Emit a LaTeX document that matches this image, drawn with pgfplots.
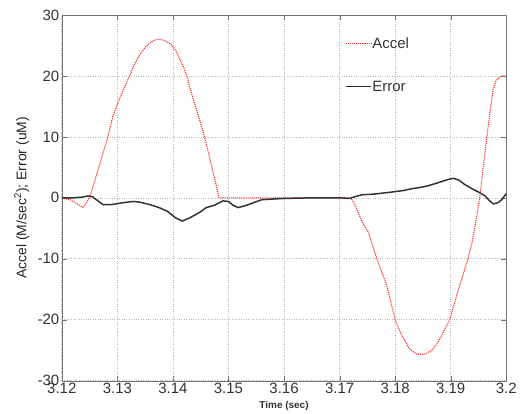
\documentclass[border=0pt]{standalone}
\usepackage{fontspec}
\setmainfont{Liberation Sans}
\usepackage{pgfplots}
\pgfplotsset{compat=1.18}

\begin{document}
\begin{tikzpicture}
\begin{axis}[
    name=ax,
    scale only axis,
    width=446pt, height=367pt,
    xmin=3.12, xmax=3.2, ymin=-30, ymax=30,
    xtick={3.12,3.13,3.14,3.15,3.16,3.17,3.18,3.19,3.2},
    xticklabels={3.12,3.13,3.14,3.15,3.16,3.17,3.18,3.19,3.2},
    ytick={-30,-20,-10,0,10,20,30},
    yticklabels={-30,-20,-10,0,10,20,30},
    tick label style={font=\fontsize{15}{18}\selectfont, text=black!80},
    yticklabel style={xshift=1pt},
    xticklabel style={yshift=1pt},
    /pgf/number format/assume math mode=true,
    tick align=inside,
    major tick length=5pt,
    tick style={black!55},
    axis line style={black!55},
    grid=major,
    major grid style={dotted, black!28, line width=0.6pt},
    xlabel={\textbf{Time (sec)}},
    xlabel style={font=\fontsize{10}{12}\selectfont, text=black!80,
        at={(axis description cs:0.5,-0.068)}, anchor=center},
    ylabel={Accel (M/sec\textsuperscript{2}); Error (uM)},
    ylabel style={font=\fontsize{14}{16}\selectfont, text=black!85,
        at={(axis description cs:-0.09,0.5)}, anchor=center},
    legend style={draw=none, fill=none, at={(rel axis cs:0.639,0.94)},
        anchor=north west, inner sep=0pt, row sep=30pt,
        font=\fontsize{15}{18}\selectfont,
        nodes={inner sep=0.5pt, text=black!80}},
    legend cell align=left,
    legend image code/.code={\draw[#1] (0pt,0pt) -- (25pt,0pt);},
]
\addlegendimage{draw=red!85, densely dotted, line width=0.9pt}
\addlegendentry{Accel}
\addlegendimage{draw=black!85, line width=0.8pt}
\addlegendentry{Error}
\addplot[draw=red!85, densely dotted, line width=1.1pt, forget plot] coordinates {
(3.1200,0) (3.1215,-0.3) (3.1230,-1.1) (3.1238,-1.6) (3.1244,-0.8)
(3.1250,0) (3.1265,4.5) (3.1283,10) (3.1292,13.4) (3.1305,16.5)
(3.1322,20) (3.1330,21.8) (3.1340,23.4) (3.1350,24.7) (3.1360,25.5)
(3.1368,25.9) (3.1376,26.0) (3.1385,25.8) (3.1395,25.3) (3.1405,24.2)
(3.1418,21.7) (3.1425,20) (3.1432,17.6) (3.1448,12.8) (3.1457,10)
(3.1465,7) (3.1478,2) (3.1483,0) (3.1500,0) (3.1600,0)
(3.1720,0) (3.1728,-1.2) (3.1740,-3.8) (3.1752,-5.7) (3.1767,-10)
(3.1785,-14.4) (3.1800,-20) (3.1810,-22.2) (3.1825,-24.7) (3.1838,-25.6)
(3.1846,-25.7) (3.1855,-25.6) (3.1866,-25) (3.1875,-24.0) (3.1887,-22)
(3.1898,-20) (3.1905,-17.8) (3.1914,-15) (3.1922,-12.7) (3.1931,-10)
(3.1938,-7.5) (3.1947,-3) (3.1952,0) (3.1965,10) (3.1972,15)
(3.1976,17.5) (3.1981,19.1) (3.1986,19.7) (3.1993,20) (3.2000,20)
};
\addplot[draw=black!80, line width=1.5pt, forget plot] coordinates {
(3.1200,0) (3.1220,0) (3.1235,0.1) (3.1247,0.3) (3.1255,0.2) (3.1265,-0.5)
(3.1274,-1.1) (3.1290,-1.1) (3.1310,-0.8) (3.1328,-0.6) (3.1340,-0.7)
(3.1358,-1.1) (3.1375,-1.6) (3.1390,-2.2) (3.1405,-3.3) (3.1417,-3.8)
(3.1430,-3.3) (3.1448,-2.4) (3.1460,-1.6) (3.1475,-1.2) (3.1490,-0.5)
(3.1500,-0.6) (3.1508,-1.2) (3.1517,-1.6) (3.1530,-1.3) (3.1545,-0.8)
(3.1560,-0.3) (3.1580,-0.2) (3.1600,-0.1) (3.1650,0) (3.1700,0)
(3.1717,-0.1) (3.1740,0.5) (3.1760,0.6) (3.1790,0.9) (3.1815,1.2)
(3.1830,1.5) (3.1845,1.7) (3.1860,2.0) (3.1878,2.5) (3.1895,3.0)
(3.1905,3.2) (3.1915,2.9) (3.1925,2.2) (3.1940,1.4) (3.1950,0.95)
(3.1962,0.3) (3.1970,-0.5) (3.1977,-1.0) (3.1985,-0.8) (3.1992,-0.3)
(3.2000,0.7)
};
\end{axis}
\path ([shift={(-62pt,-33pt)}]ax.south west) rectangle ([shift={(12pt,15pt)}]ax.north east);
\end{tikzpicture}
\end{document}
